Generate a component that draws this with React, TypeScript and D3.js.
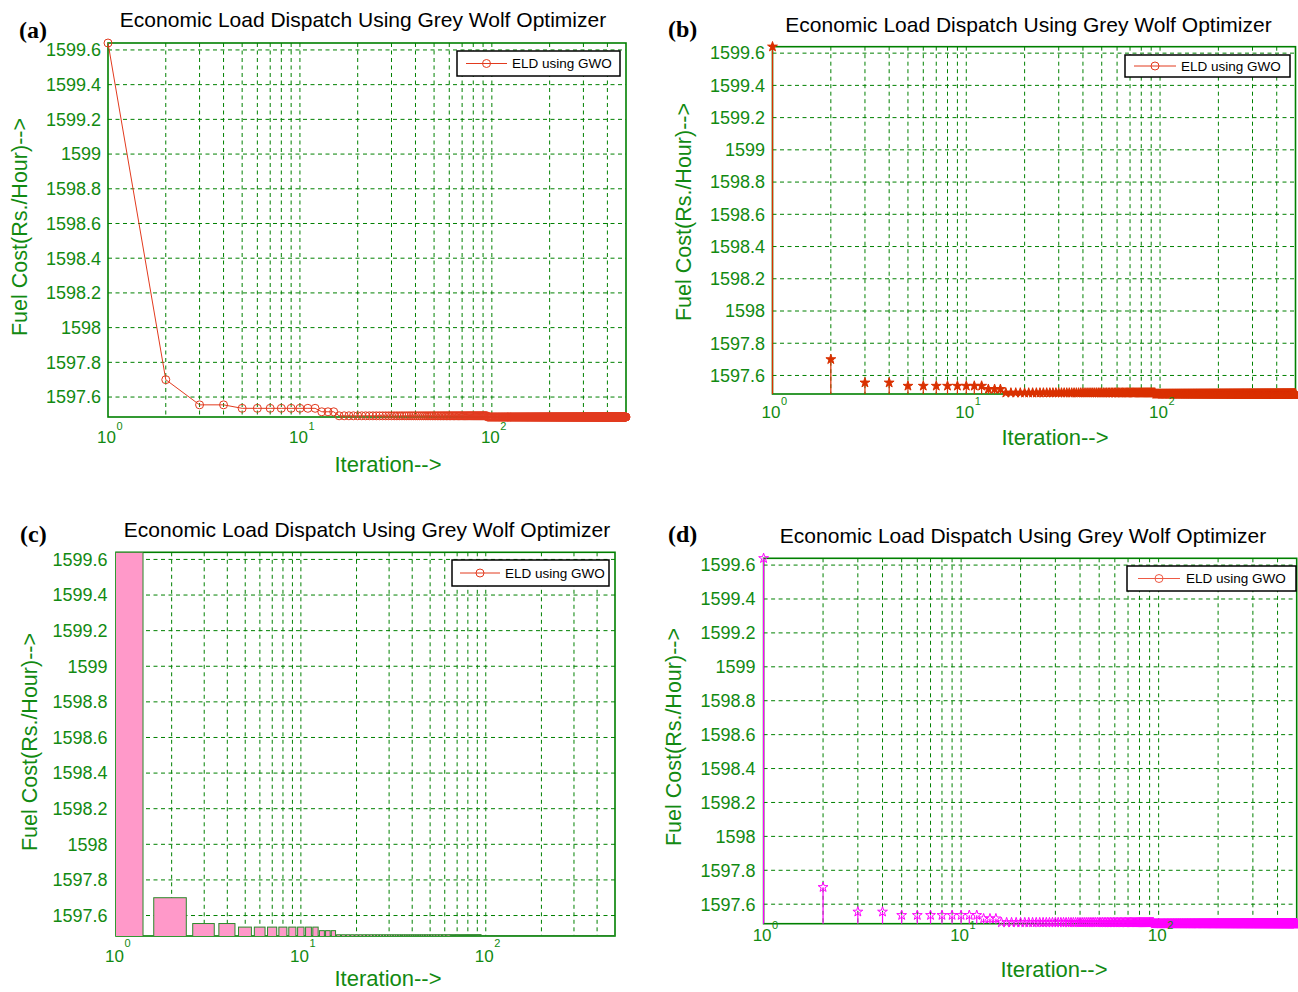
import React from 'react';
import * as d3 from 'd3';

// ---------- data ----------
// Convergence curve stored as runs of equal best cost: iterations runStart..runEnd share runCost
const runStart = [1, 2, 3, 5, 13, 16, 95];
const runEnd = [1, 2, 4, 12, 15, 94, 500];
const runCost = [1599.64, 1597.7, 1597.555, 1597.535, 1597.515, 1597.492, 1597.485];
const yTickValues = [1597.6, 1597.8, 1598.0, 1598.2, 1598.4, 1598.6, 1598.8, 1599.0, 1599.2, 1599.4, 1599.6];
const xMajorTicks = [1, 10, 100];
const xMajorExponents = ['0', '1', '2'];
const xDomain = [1, 500];
const titleText = 'Economic Load Dispatch Using Grey Wolf Optimizer';
const yLabelText = 'Fuel Cost(Rs./Hour)-->';
const xLabelText = 'Iteration-->';
const legendText = 'ELD using GWO';
const panelLetters = ['(a)', '(b)', '(c)', '(d)'];

const series = runStart.flatMap((s, i) =>
  d3.range(s, runEnd[i] + 1).map((it) => ({ it, cost: runCost[i] }))
);

// ---------- layout / style ----------
const GREEN = '#008000';
const GREEN_TEXT = '#128a12';
const SANS = '"Liberation Sans", Arial, Helvetica, sans-serif';
const SERIF = '"Liberation Serif", "Times New Roman", serif';

type Kind = 'line' | 'stemFilled' | 'bar' | 'stemHollow';
interface Layout {
  kind: Kind;
  left: number; right: number; top: number; bottom: number;
  titleX: number; titleY: number;
  letterX: number; letterY: number;
  tickRight: number;
  yLabX: number; yLabY: number;
  xLabX: number; xLabY: number;
  tenDy: number; supDy: number;
  lg: { x0: number; x1: number; y0: number; y1: number; l0: number; l1: number; t: number };
  legendColor: string;
}

const layouts: Layout[] = [
  {
    kind: 'line', left: 108, right: 626, top: 43, bottom: 417,
    titleX: 363, titleY: 27, letterX: 19, letterY: 38, tickRight: 101,
    yLabX: 27, yLabY: 227, xLabX: 388, xLabY: 472, tenDy: 26, supDy: 13,
    lg: { x0: 457, x1: 620, y0: 51, y1: 76, l0: 466, l1: 507, t: 512 }, legendColor: '#e23a1e',
  },
  {
    kind: 'stemFilled', left: 772.5, right: 1295.5, top: 46.7, bottom: 394,
    titleX: 1028.5, titleY: 32, letterX: 668, letterY: 37, tickRight: 765,
    yLabX: 691, yLabY: 212, xLabX: 1055, xLabY: 445, tenDy: 24, supDy: 11,
    lg: { x0: 1125, x1: 1290, y0: 55, y1: 77, l0: 1134, l1: 1176, t: 1181 }, legendColor: '#e23a1e',
  },
  {
    kind: 'bar', left: 116, right: 615, top: 552.3, bottom: 936,
    titleX: 367, titleY: 537, letterX: 20, letterY: 542, tickRight: 107.5,
    yLabX: 37, yLabY: 742, xLabX: 388, xLabY: 986, tenDy: 26, supDy: 11,
    lg: { x0: 452, x1: 609, y0: 560, y1: 586, l0: 460, l1: 500, t: 505 }, legendColor: '#e23a1e',
  },
  {
    kind: 'stemHollow', left: 763.6, right: 1296.7, top: 558.3, bottom: 923.7,
    titleX: 1023, titleY: 543, letterX: 668, letterY: 542, tickRight: 755.5,
    yLabX: 681, yLabY: 737, xLabX: 1054, xLabY: 977, tenDy: 17, supDy: 5.5,
    lg: { x0: 1127, x1: 1296, y0: 566, y1: 591, l0: 1138, l1: 1180, t: 1186 }, legendColor: '#ee5a45',
  },
];

const fmtTick = (v: number) => String(+v.toFixed(1));

function Panel({ L, idx }: { L: Layout; idx: number }) {
  const yMin = d3.min(series, (d) => d.cost) as number;
  const yMax = d3.max(series, (d) => d.cost) as number;
  const xs = d3.scaleLog().domain(xDomain).range([L.left, L.right]);
  const ys = d3.scaleLinear().domain([yMin, yMax]).range([L.bottom, L.top]);
  const xGrid = xs.ticks().filter((t) => t > xDomain[0] && t < xDomain[1]);
  const clipId = `clip-${idx}`;
  const star = d3.symbol(d3.symbolStar, 30)() as string;

  let marks: React.ReactNode = null;
  if (L.kind === 'line') {
    const c = '#e23a1e';
    const path = d3.line<{ it: number; cost: number }>().x((d) => xs(d.it)).y((d) => ys(d.cost))(series) as string;
    marks = (
      <g>
        <path d={path} fill="none" stroke={c} strokeWidth={1} />
        {series.map((d) => (
          <circle key={d.it} cx={xs(d.it)} cy={ys(d.cost)} r={4} fill="none" stroke={c} strokeWidth={1} />
        ))}
      </g>
    );
  } else if (L.kind === 'stemFilled' || L.kind === 'stemHollow') {
    const c = L.kind === 'stemFilled' ? '#da3000' : '#ff00ff';
    marks = (
      <g>
        {series.map((d) => (
          <line key={'s' + d.it} x1={xs(d.it)} x2={xs(d.it)} y1={L.bottom} y2={ys(d.cost)} stroke={c} strokeWidth={1.2} />
        ))}
        {series.map((d) => (
          <path
            key={'m' + d.it}
            d={star}
            transform={`translate(${xs(d.it)},${ys(d.cost)})`}
            fill={L.kind === 'stemFilled' ? c : 'none'}
            stroke={c}
            strokeWidth={1}
          />
        ))}
      </g>
    );
  } else {
    marks = (
      <g clipPath={`url(#${clipId})`}>
        {series.map((d) => {
          const x0 = xs(d.it - 0.4);
          const x1 = xs(d.it + 0.4);
          const y0 = ys(d.cost);
          return (
            <rect key={d.it} x={x0} y={y0} width={x1 - x0} height={L.bottom - y0 + 2}
              fill="#ff99c9" stroke="#2a8a2a" strokeWidth={1} />
          );
        })}
      </g>
    );
  }

  const lgMid = (L.lg.y0 + L.lg.y1) / 2;
  return (
    <g>
      <defs>
        <clipPath id={clipId}>
          <rect x={L.left} y={L.top} width={L.right - L.left} height={L.bottom - L.top} />
        </clipPath>
      </defs>
      {/* grid */}
      <g stroke={GREEN} strokeWidth={1} strokeDasharray="4,3.5" fill="none">
        {xGrid.map((t) => (
          <line key={'gx' + t} x1={xs(t)} x2={xs(t)} y1={L.top} y2={L.bottom} />
        ))}
        {yTickValues.map((t) => (
          <line key={'gy' + t} x1={L.left} x2={L.right} y1={ys(t)} y2={ys(t)} />
        ))}
      </g>
      {/* box */}
      <rect x={L.left} y={L.top} width={L.right - L.left} height={L.bottom - L.top} fill="none" stroke={GREEN} strokeWidth={1.6} />
      {marks}
      {/* y tick labels */}
      <g fontFamily={SANS} fontSize={18} fill={GREEN_TEXT} textAnchor="end">
        {yTickValues.map((t) => (
          <text key={'yl' + t} x={L.tickRight} y={ys(t)} dy="0.35em">{fmtTick(t)}</text>
        ))}
      </g>
      {/* x tick labels */}
      <g fontFamily={SANS} fill={GREEN_TEXT}>
        {xMajorTicks.map((t, i) => (
          <g key={'xl' + t}>
            <text x={xs(t) - 1.5} y={L.bottom + L.tenDy} fontSize={17} textAnchor="middle">10</text>
            <text x={xs(t) + 8.5} y={L.bottom + L.supDy} fontSize={11} textAnchor="start">{xMajorExponents[i]}</text>
          </g>
        ))}
      </g>
      {/* axis labels */}
      <text x={L.xLabX} y={L.xLabY} fontFamily={SANS} fontSize={22} fill={GREEN_TEXT} textAnchor="middle">{xLabelText}</text>
      <text transform={`translate(${L.yLabX},${L.yLabY}) rotate(-90)`} fontFamily={SANS} fontSize={21.5} fill={GREEN_TEXT} textAnchor="middle">{yLabelText}</text>
      {/* title */}
      <text x={L.titleX} y={L.titleY} fontFamily={SANS} fontSize={21} fill="#000" textAnchor="middle">{titleText}</text>
      {/* panel letter */}
      <text x={L.letterX} y={L.letterY} fontFamily={SERIF} fontWeight="bold" fontSize={24} fill="#000">{panelLetters[idx]}</text>
      {/* legend */}
      <g>
        <rect x={L.lg.x0} y={L.lg.y0} width={L.lg.x1 - L.lg.x0} height={L.lg.y1 - L.lg.y0} fill="#fff" stroke="#000" strokeWidth={1.5} />
        <line x1={L.lg.l0} x2={L.lg.l1} y1={lgMid} y2={lgMid} stroke={L.legendColor} strokeWidth={1} />
        <circle cx={(L.lg.l0 + L.lg.l1) / 2} cy={lgMid} r={4} fill="none" stroke={L.legendColor} strokeWidth={1} />
        <text x={L.lg.t} y={lgMid} dy="0.35em" fontFamily={SANS} fontSize={13.5} fill="#000">{legendText}</text>
      </g>
    </g>
  );
}

export default function App() {
  return (
    <svg
      width={1298}
      height={992}
      viewBox="0 0 1298 992"
      style={{ position: 'absolute', left: 0, top: 0, background: '#fff' }}
    >
      <rect x={0} y={0} width={1298} height={992} fill="#fff" />
      {layouts.map((L, i) => (
        <Panel key={i} L={L} idx={i} />
      ))}
    </svg>
  );
}
